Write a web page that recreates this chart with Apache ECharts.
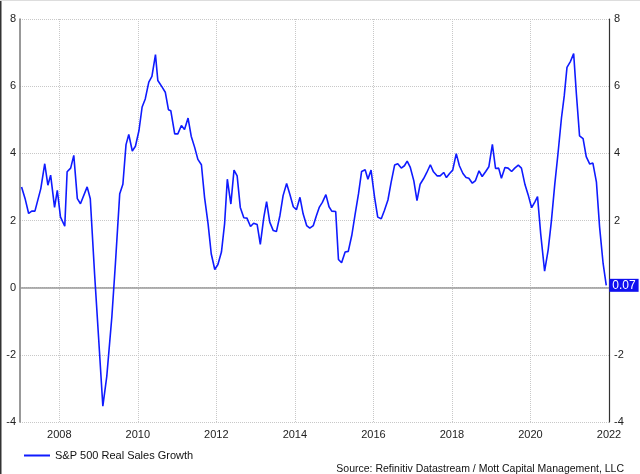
<!DOCTYPE html>
<html>
<head>
<meta charset="utf-8">
<script src="https://cdn.jsdelivr.net/npm/echarts@6/dist/echarts.min.js"></script>
<style>
  html, body { margin: 0; padding: 0; background: #fff; }
  #chart { width: 640px; height: 474px; }
</style>
</head>
<body>
<div id="chart"></div>
<script>
// Time positions (fractional years) of the line's vertices
const dates = [
  2007.04, 2007.13, 2007.22, 2007.30, 2007.38, 2007.53, 2007.63, 2007.71, 2007.78, 2007.88,
  2007.95, 2008.03, 2008.14, 2008.20, 2008.29, 2008.37, 2008.46, 2008.54, 2008.71, 2008.79,
  2008.90, 2009.00, 2009.11, 2009.21, 2009.34, 2009.43, 2009.54, 2009.62, 2009.70, 2009.77,
  2009.86, 2009.94, 2010.03, 2010.11, 2010.19, 2010.28, 2010.36, 2010.45, 2010.51, 2010.62,
  2010.70, 2010.78, 2010.84, 2010.94, 2011.02, 2011.11, 2011.19, 2011.28, 2011.36, 2011.45,
  2011.53, 2011.62, 2011.70, 2011.79, 2011.87, 2011.96, 2012.04, 2012.13, 2012.21, 2012.28,
  2012.37, 2012.45, 2012.53, 2012.61, 2012.70, 2012.78, 2012.87, 2012.95, 2013.04, 2013.12,
  2013.21, 2013.28, 2013.36, 2013.45, 2013.53, 2013.62, 2013.70, 2013.79, 2013.87, 2013.96,
  2014.04, 2014.13, 2014.21, 2014.30, 2014.38, 2014.47, 2014.55, 2014.62, 2014.70, 2014.79,
  2014.87, 2014.94, 2015.04, 2015.11, 2015.19, 2015.28, 2015.36, 2015.45, 2015.53, 2015.62,
  2015.70, 2015.79, 2015.86, 2015.94, 2016.03, 2016.11, 2016.20, 2016.28, 2016.37, 2016.45,
  2016.54, 2016.62, 2016.71, 2016.79, 2016.86, 2016.94, 2017.03, 2017.11, 2017.19, 2017.28,
  2017.36, 2017.45, 2017.53, 2017.62, 2017.70, 2017.79, 2017.86, 2017.94, 2018.02, 2018.11,
  2018.19, 2018.28, 2018.36, 2018.43, 2018.52, 2018.60, 2018.69, 2018.77, 2018.86, 2018.94,
  2019.03, 2019.11, 2019.19, 2019.26, 2019.35, 2019.43, 2019.52, 2019.60, 2019.69, 2019.77,
  2019.86, 2019.94, 2020.03, 2020.11, 2020.18, 2020.26, 2020.36, 2020.45, 2020.53, 2020.62,
  2020.70, 2020.79, 2020.86, 2020.93, 2021.02, 2021.10, 2021.17, 2021.25, 2021.34, 2021.42,
  2021.51, 2021.59, 2021.68, 2021.76, 2021.85, 2021.93
];
// S&P 500 real sales growth (%)
const salesGrowth = [
  3.00, 2.65, 2.21, 2.28, 2.28, 2.95, 3.69, 3.05, 3.35, 2.39,
  2.90, 2.11, 1.83, 3.45, 3.56, 3.94, 2.65, 2.50, 3.00, 2.65,
  0.40, -1.46, -3.53, -2.64, -0.86, 0.72, 2.80, 3.08, 4.26, 4.56,
  4.07, 4.21, 4.68, 5.38, 5.62, 6.12, 6.29, 6.94, 6.17, 5.97,
  5.82, 5.30, 5.27, 4.58, 4.58, 4.83, 4.71, 5.05, 4.51, 4.17,
  3.82, 3.66, 2.69, 1.90, 1.01, 0.54, 0.69, 1.06, 1.90, 3.23,
  2.49, 3.50, 3.33, 2.39, 2.08, 2.07, 1.82, 1.92, 1.88, 1.29,
  2.10, 2.56, 1.95, 1.70, 1.67, 2.15, 2.74, 3.10, 2.79, 2.41,
  2.32, 2.69, 2.20, 1.85, 1.77, 1.85, 2.15, 2.39, 2.54, 2.77,
  2.41, 2.28, 2.27, 0.84, 0.74, 1.06, 1.08, 1.56, 2.15, 2.79,
  3.46, 3.51, 3.23, 3.50, 2.69, 2.10, 2.05, 2.30, 2.61, 3.13,
  3.65, 3.69, 3.56, 3.63, 3.77, 3.58, 3.18, 2.59, 3.08, 3.25,
  3.43, 3.66, 3.45, 3.33, 3.33, 3.43, 3.28, 3.40, 3.50, 3.99,
  3.63, 3.40, 3.28, 3.26, 3.11, 3.19, 3.48, 3.31, 3.46, 3.60,
  4.27, 3.55, 3.56, 3.26, 3.58, 3.56, 3.46, 3.56, 3.65, 3.56,
  3.07, 2.77, 2.38, 2.55, 2.71, 1.61, 0.49, 1.12, 1.95, 3.09,
  3.98, 5.06, 5.71, 6.56, 6.74, 6.97, 5.76, 4.52, 4.44, 3.90,
  3.68, 3.71, 3.14, 1.81, 0.72, 0.07
];
const yearTicks = [2008, 2010, 2012, 2014, 2016, 2018, 2020, 2022];
const xRange = [2007, 2022];
const yRange = [-4, 8];
const yStep = 2;
const seriesName = 'S&P 500 Real Sales Growth';
const sourceText = 'Source: Refinitiv Datastream / Mott Capital Management, LLC';

const lineColor = '#0f1bff';
const points = dates.map((d, i) => [d, salesGrowth[i]]);
const lastValue = salesGrowth[salesGrowth.length - 1];

const chart = echarts.init(document.getElementById('chart'), null, { renderer: 'canvas' });
const fontFam = 'Liberation Sans, Arial, sans-serif';
const labelStyle = { color: '#222', fontSize: 11, fontFamily: fontFam };

chart.setOption({
  backgroundColor: '#fff',
  animation: false,
  grid: { left: 20, right: 31, top: 19, bottom: 52, containLabel: false },
  xAxis: {
    type: 'value',
    min: xRange[0],
    max: xRange[1],
    axisLine: { show: false },
    axisTick: { show: false, customValues: yearTicks },
    axisLabel: Object.assign({ customValues: yearTicks, margin: 7, formatter: v => String(v) }, labelStyle),
    splitLine: { show: true, lineStyle: { color: '#c8c8c8', type: [1, 1], width: 1 } }
  },
  yAxis: [
    {
      type: 'value', position: 'left', min: yRange[0], max: yRange[1], interval: yStep,
      axisLine: { show: true, lineStyle: { color: '#777', width: 1.5 } },
      axisTick: { show: false },
      axisLabel: Object.assign({ margin: 4 }, labelStyle),
      splitLine: { show: true, lineStyle: { color: '#c8c8c8', type: [1, 1], width: 1 } }
    },
    {
      type: 'value', position: 'right', min: yRange[0], max: yRange[1], interval: yStep,
      axisLine: { show: true, lineStyle: { color: '#333', width: 1.2 } },
      axisTick: { show: false },
      axisLabel: Object.assign({ margin: 5 }, labelStyle),
      splitLine: { show: false }
    }
  ],
  legend: {
    left: 19, top: 445,
    itemWidth: 26, itemHeight: 14, itemGap: 10,
    textStyle: { color: '#111', fontSize: 11, fontFamily: fontFam },
    data: [{ name: seriesName, icon: 'path://M0,6 L26,6 L26,8 L0,8 Z' }]
  },
  title: {
    text: sourceText,
    right: 11, top: 459,
    textStyle: { color: '#111', fontSize: 10.5, fontWeight: 'normal', fontFamily: fontFam }
  },
  graphic: [
    { type: 'line', shape: { x1: 0.5, y1: 0, x2: 0.5, y2: 474 }, style: { stroke: '#333', lineWidth: 2 } },
    { type: 'line', shape: { x1: 0, y1: 0.5, x2: 640, y2: 0.5 }, style: { stroke: '#ddd', lineWidth: 1 } }
  ],
  series: [{
    name: seriesName,
    type: 'line',
    data: points,
    showSymbol: false,
    symbol: 'none',
    color: lineColor,
    lineStyle: { color: lineColor, width: 1.6 },
    z: 5,
    endLabel: {
      show: true,
      formatter: () => lastValue.toFixed(2),
      backgroundColor: '#1010f0',
      color: '#fff',
      fontSize: 12,
      fontFamily: fontFam,
      padding: [1, 3, 0, 3],
      distance: 3
    },
    markLine: {
      silent: true,
      symbol: 'none',
      label: { show: false },
      lineStyle: { color: '#999', type: 'solid', width: 1.5 },
      data: [{ yAxis: 0 }],
      z: 1
    }
  }]
});
</script>
</body>
</html>
